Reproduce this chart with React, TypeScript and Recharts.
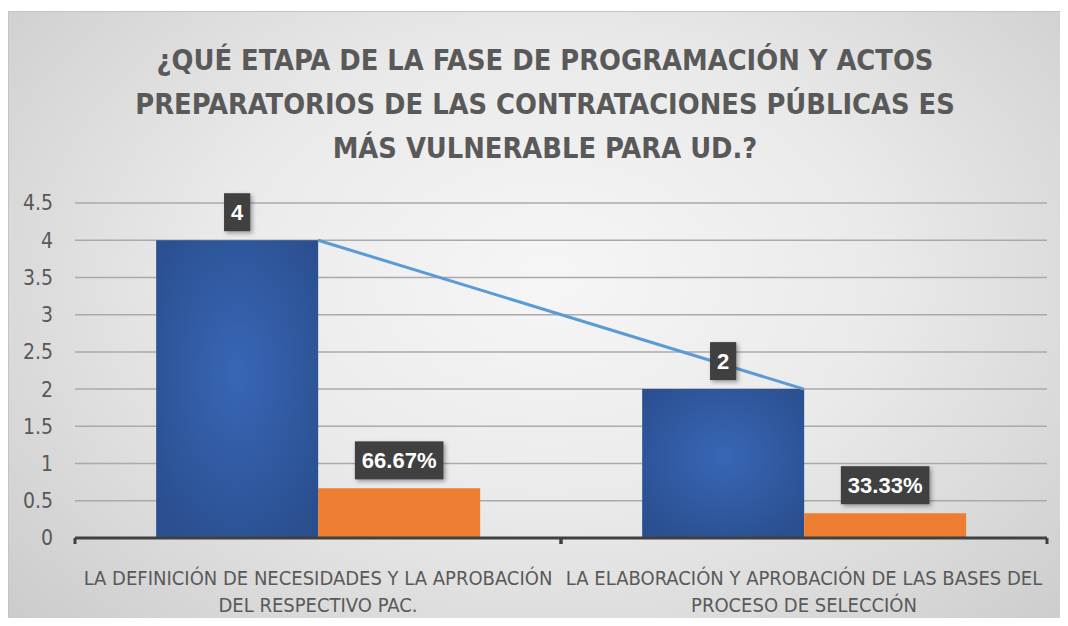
import * as React from "react";
import {
  ComposedChart,
  Bar,
  Line,
  XAxis,
  YAxis,
  CartesianGrid,
  LabelList,
} from "recharts";

const titleLines = [
  "¿QUÉ ETAPA DE LA FASE DE PROGRAMACIÓN Y ACTOS",
  "PREPARATORIOS DE LAS CONTRATACIONES PÚBLICAS ES",
  "MÁS VULNERABLE PARA UD.?",
];

const categories = [
  "LA DEFINICIÓN DE NECESIDADES Y LA APROBACIÓN\nDEL RESPECTIVO PAC.",
  "LA ELABORACIÓN Y APROBACIÓN DE LAS BASES DEL\nPROCESO DE SELECCIÓN",
];
const counts = [4, 2];
const shares = [0.6667, 0.3333];
const yTicks = [0, 0.5, 1, 1.5, 2, 2.5, 3, 3.5, 4, 4.5];

const data = categories.map((name, i) => ({
  name,
  count: counts[i],
  share: shares[i],
}));

const NARROW = '"Liberation Sans Narrow", "DejaVu Sans Condensed", "Liberation Sans", sans-serif';
const TEXT = "#595959";

// rough glyph widths for the label boxes (Liberation Sans Bold)
function textWidth(s: string, size: number) {
  let w = 0;
  for (const c of s) {
    if (c === ".") w += 0.278;
    else if (c === "%") w += 0.889;
    else w += 0.556;
  }
  return w * size;
}

function ValueBox(props: any) {
  const { x, y, width, value, fmt } = props;
  const label = fmt(value);
  const fs = 22;
  const bw = textWidth(label, fs) + 14;
  const bh = 38;
  const cx = x + width / 2;
  const top = y - 9 - bh;
  return (
    <g>
      <rect
        x={cx - bw / 2}
        y={top}
        width={bw}
        height={bh}
        fill="#404040"
        filter="url(#boxShadow)"
      />
      <text
        x={cx}
        y={top + bh / 2}
        dy="0.36em"
        textAnchor="middle"
        fill="#ffffff"
        fontSize={fs}
        fontWeight="bold"
        fontFamily='"Liberation Sans", sans-serif'
      >
        {label}
      </text>
    </g>
  );
}

function CategoryTick(props: any) {
  const { x, y, payload } = props;
  const half = payload.offset || 0;
  const lines = String(payload.value).split("\n");
  return (
    <g>
      <line x1={x - half} x2={x - half} y1={y} y2={y + 6} stroke="#404040" strokeWidth={3} />
      <line x1={x + half} x2={x + half} y1={y} y2={y + 6} stroke="#404040" strokeWidth={3} />
      {lines.map((l, i) => (
        <text
          key={i}
          x={x}
          y={y + 47 + i * 27}
          textAnchor="middle"
          fill={TEXT}
          fontSize={20}
          fontFamily={NARROW}
        >
          {l}
        </text>
      ))}
    </g>
  );
}

export default function App() {
  return (
    <div
      style={{
        position: "relative",
        width: 1068,
        height: 626,
        margin: -8,
        background: "#ffffff",
        overflow: "hidden",
      }}
    >
      <div
        style={{
          position: "absolute",
          left: 8,
          top: 11,
          right: -20,
          bottom: -20,
          borderLeft: "1px solid #c4c4c4",
          borderTop: "1px solid #c4c4c4",
          background:
            "radial-gradient(ellipse 68% 80% at 50% 42%, #f6f6f6 0%, #eaeaea 45%, #cbcbcb 100%)",
        }}
      />
      <div style={{ position: "absolute", left: 0, top: 0 }}>
        <ComposedChart
          width={1068}
          height={626}
          data={data}
          margin={{ top: 203, right: 21, bottom: 28, left: 8 }}
          barCategoryGap="16.7%"
          barGap={0}
        >
          <defs>
            <radialGradient id="blueGrad" cx="50%" cy="45%" r="65%">
              <stop offset="0%" stopColor="#3866b6" />
              <stop offset="100%" stopColor="#2a4f8f" />
            </radialGradient>
            <filter id="boxShadow" x="-30%" y="-30%" width="160%" height="160%">
              <feDropShadow dx="2" dy="2" stdDeviation="2" floodColor="#000" floodOpacity="0.35" />
            </filter>
          </defs>
          <CartesianGrid vertical={false} stroke="#aaaaaa" strokeWidth={1.5} />
          <XAxis
            dataKey="name"
            interval={0}
            height={60}
            tickLine={false}
            tickSize={0}
            tickMargin={0}
            axisLine={{ stroke: "#404040", strokeWidth: 3 }}
            tick={<CategoryTick />}
          />
          <YAxis
            domain={[0, 4.5]}
            ticks={yTicks}
            width={67}
            axisLine={false}
            tickLine={false}
            tickSize={0}
            tickMargin={22}
            tick={{ fill: TEXT, fontSize: 21, fontFamily: NARROW }}
          />
          <Bar dataKey="count" fill="url(#blueGrad)" isAnimationActive={false}>
            <LabelList
              dataKey="count"
              content={<ValueBox fmt={(v: number) => String(v)} />}
            />
          </Bar>
          <Bar dataKey="share" fill="#ED7D31" isAnimationActive={false}>
            <LabelList
              dataKey="share"
              content={<ValueBox fmt={(v: number) => (v * 100).toFixed(2) + "%"} />}
            />
          </Bar>
          <Line
            type="linear"
            dataKey="count"
            stroke="#5B9BD5"
            strokeWidth={3}
            dot={false}
            activeDot={false}
            isAnimationActive={false}
          />
        </ComposedChart>
      </div>
      <svg
        width={1068}
        height={190}
        style={{ position: "absolute", left: 0, top: 0, pointerEvents: "none" }}
      >
        {titleLines.map((t, i) => (
          <text
            key={i}
            x={545}
            y={70 + i * 44}
            textAnchor="middle"
            fill={TEXT}
            fontSize={28.7}
            fontWeight="bold"
            fontFamily={NARROW}
          >
            {t}
          </text>
        ))}
      </svg>
    </div>
  );
}
